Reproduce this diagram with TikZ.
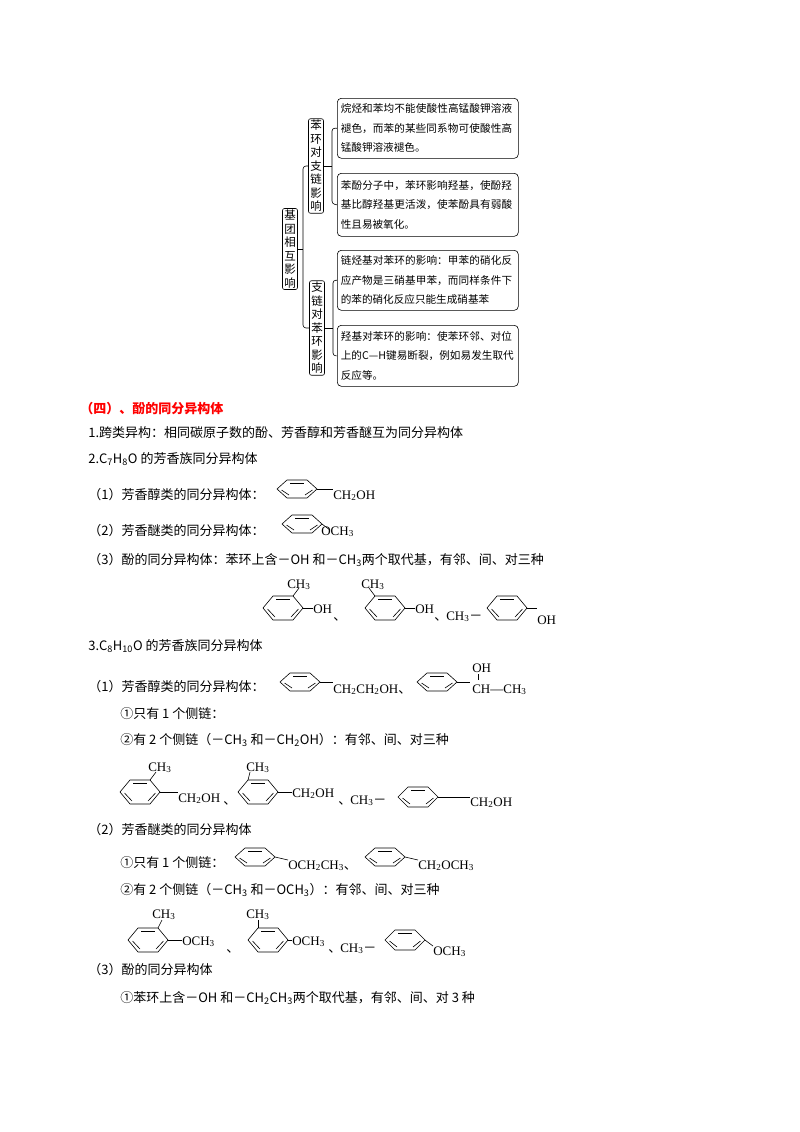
\documentclass[tikz,border=0pt]{standalone}
\usepackage{fontspec}
\setmainfont{Liberation Serif}
\newfontfamily\cjk{Noto Sans CJK SC}
\XeTeXlinebreaklocale "zh"
\XeTeXlinebreakskip=0pt plus 1pt
\newcommand\sbs[1]{\textsubscript{#1}}
\newcommand\cj[1]{{\cjk #1}}
\newcommand\bz[3]{% x y halfheight
 \draw (#1-20,#2) -- (#1-10,#2-#3) -- (#1+10,#2-#3) -- (#1+20,#2) -- (#1+10,#2+#3) -- (#1-10,#2+#3) -- cycle;
 \draw (#1-7,#2-#3+3) -- (#1+7,#2-#3+3);
 \draw (#1+15.5,#2+1) -- (#1+8,#2+#3-3);
 \draw (#1-15.5,#2+1) -- (#1-8,#2+#3-3);
}
\begin{document}
\begin{tikzpicture}[x=1pt,y=-1pt,line width=0.6pt,
  txt/.style={anchor=base west,inner sep=0pt,font=\cjk\fontsize{13}{15}\selectfont},
  chem/.style={anchor=base west,inner sep=0pt,font=\fontsize{13}{15}\selectfont},
  vbox/.style={draw,rounded corners=2pt,align=center,inner sep=1.5pt,font=\cjk\fontsize{11.5}{13.5}\selectfont,text width=12pt},
  leaf/.style={draw,rounded corners=4pt,align=left,inner sep=3.5pt,font=\cjk\fontsize{10.6}{19.5}\selectfont,text width=174pt,anchor=north west}]
\useasboundingbox (0,0) rectangle (800,1132);
% mind map
\node[vbox,minimum height=78pt] (root) at (290,249) {基\\团\\相\\互\\影\\响};
\node[vbox,minimum height=88pt] (b1) at (316,166) {苯\\环\\对\\支\\链\\影\\响};
\node[vbox,minimum height=88pt] (b2) at (317,328) {支\\链\\对\\苯\\环\\影\\响};
\node[leaf,minimum height=60pt] (l1) at (337,98) {烷烃和苯均不能使酸性高锰酸钾溶液褪色，而苯的某些同系物可使酸性高锰酸钾溶液褪色。};
\node[leaf,minimum height=63pt] (l2) at (337,173) {苯酚分子中，苯环影响羟基，使酚羟基比醇羟基更活泼，使苯酚具有弱酸性且易被氧化。};
\node[leaf,minimum height=60pt] (l3) at (337,250) {链烃基对苯环的影响：甲苯的硝化反应产物是三硝基甲苯，而同样条件下的苯的硝化反应只能生成硝基苯};
\node[leaf,minimum height=61pt] (l4) at (337,325) {羟基对苯环的影响：使苯环邻、对位上的C—H键易断裂，例如易发生取代反应等。};
\draw[rounded corners=3pt] (root.east) -- (303,249);
\draw[rounded corners=3pt] (b1.west) -- (303,166) -- (303,328) -- (b2.west);
\draw[rounded corners=3pt] (b1.east) -- (332,166);
\draw[rounded corners=3pt] (l1.west) -- (332,128) -- (332,204) -- (l2.west);
\draw[rounded corners=3pt] (b2.east) -- (333,328);
\draw[rounded corners=3pt] (l3.west) -- (333,280) -- (333,356) -- (l4.west);
% heading
\node[txt,text=red,font=\cjk\bfseries\fontsize{13}{15}\selectfont] (h) at (80,413) {（四）、酚的同分异构体};
\node[txt] (t1) at (88,437) {1.跨类异构：相同碳原子数的酚、芳香醇和芳香醚互为同分异构体};
\node[txt] (t2) at (88,463) {2.C\sbs{7}H\sbs{8}O 的芳香族同分异构体};
\node[txt] (t3) at (88,499) {（1）芳香醇类的同分异构体：};
\bz{297}{489}{9}
\draw (317,489) -- (333,489);
\node[chem] at (333,499) {CH\sbs{2}OH};
\node[txt] (t4) at (88,535) {（2）芳香醚类的同分异构体：};
\bz{302}{524}{9}
\draw (322,524) -- (330,530);
\node[chem] at (321,535) {OCH\sbs{3}};
\node[txt] (t5) at (88,564) {（3）酚的同分异构体：苯环上含－OH 和－CH\sbs{3}两个取代基，有邻、间、对三种};
% phenols
\bz{283}{608}{12}
\draw (293,596) -- (299,588); \node[chem] at (287,588) {CH\sbs{3}};
\draw (303,608) -- (313,608); \node[chem] at (313,613) {OH};
\node[txt] at (333,620) {、};
\bz{385}{608}{12}
\draw (375,596) -- (369,588); \node[chem] at (361,588) {CH\sbs{3}};
\draw (405,608) -- (415,608); \node[chem] at (415,613) {OH};
\node[txt] at (434,620) {、}; \node[chem] at (446,620) {CH\sbs{3}\cj{－}};
\bz{507}{608}{12}
\draw (527,608) -- (537,608); \node[chem] at (537,624) {OH};
\node[txt] (t6) at (88,650) {3.C\sbs{8}H\sbs{10}O 的芳香族同分异构体};
\node[txt] (t7) at (88,691) {（1）芳香醇类的同分异构体：};
\bz{300}{682}{9}
\draw (320,682) -- (333,682);
\node[chem] at (333,693) {CH\sbs{2}CH\sbs{2}OH\cj{、}};
\bz{437}{682}{9}
\draw (457,682) -- (470,682);
\node[chem] at (472,672) {OH};
\draw (478,674) -- (478,680);
\node[chem] at (472,693) {CH—CH\sbs{3}};
\node[txt] (t8) at (120,718) {①只有 1 个侧链：};
\node[txt] (t9) at (120,744) {②有 2 个侧链（－CH\sbs{3} 和－CH\sbs{2}OH）：有邻、间、对三种};
\bz{140}{792}{12}
\draw (150,780) -- (156,772); \node[chem] at (148,771) {CH\sbs{3}};
\draw (160,792) -- (178,792); \node[chem] at (178,802) {CH\sbs{2}OH};
\node[txt] at (223,804) {、};
\bz{258}{792}{12}
\draw (248,780) -- (250,772); \node[chem] at (246,771) {CH\sbs{3}};
\draw (278,792) -- (292,792); \node[chem] at (292,797) {CH\sbs{2}OH};
\node[txt] at (338,804) {、}; \node[chem] at (350,804) {CH\sbs{3}\cj{－}};
\bz{418}{797}{10}
\draw (438,797) -- (470,797); \node[chem] at (470,806) {CH\sbs{2}OH};
\node[txt] (t10) at (88,834) {（2）芳香醚类的同分异构体};
\node[txt] (t11) at (120,867) {①只有 1 个侧链：};
\bz{255}{857}{9}
\draw (275,857) -- (288,860); \node[chem] at (288,869) {OCH\sbs{2}CH\sbs{3}\cj{、}};
\bz{385}{857}{9}
\draw (405,857) -- (418,860); \node[chem] at (418,869) {CH\sbs{2}OCH\sbs{3}};
\node[txt] (t12) at (120,894) {②有 2 个侧链（－CH\sbs{3} 和－OCH\sbs{3}）：有邻、间、对三种};
\bz{148}{940}{12}
\draw (158,928) -- (162,920); \node[chem] at (152,918) {CH\sbs{3}};
\draw (168,940) -- (182,940); \node[chem] at (182,945) {OCH\sbs{3}};
\node[txt] at (226,952) {、};
\bz{268}{940}{12}
\draw (258,928) -- (258,920); \node[chem] at (246,918) {CH\sbs{3}};
\draw (288,940) -- (292,940); \node[chem] at (292,945) {OCH\sbs{3}};
\node[txt] at (328,952) {、}; \node[chem] at (340,952) {CH\sbs{3}\cj{－}};
\bz{405}{940}{10}
\draw (425,940) -- (433,946); \node[chem] at (433,955) {OCH\sbs{3}};
\node[txt] (t13) at (88,974) {（3）酚的同分异构体};
\node[txt] (t14) at (120,1002) {①苯环上含－OH 和－CH\sbs{2}CH\sbs{3}两个取代基，有邻、间、对 3 种};
\end{tikzpicture}
\end{document}
